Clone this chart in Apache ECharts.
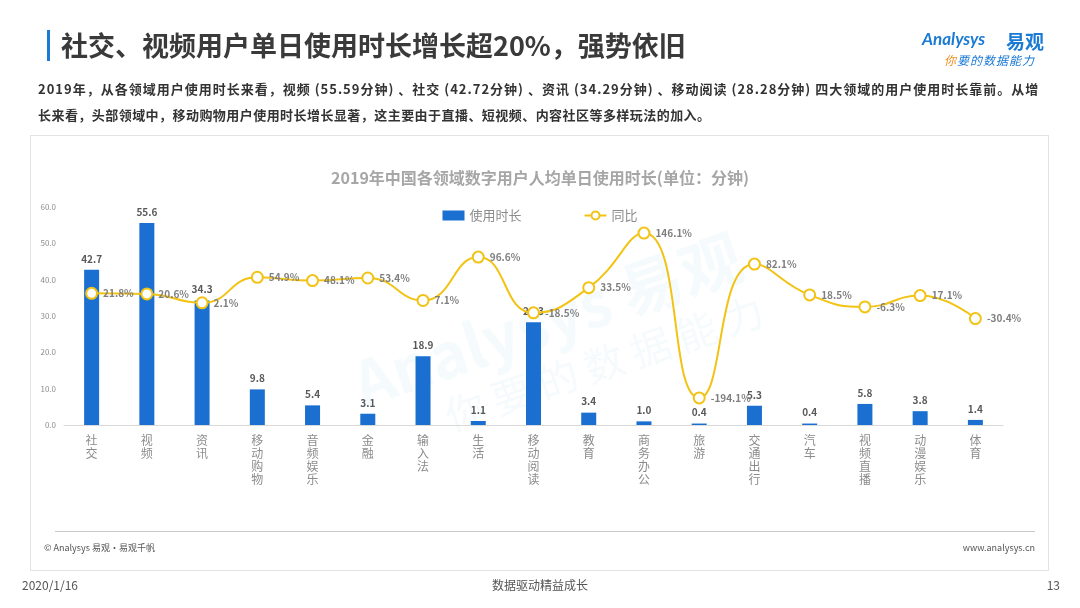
<!DOCTYPE html>
<html>
<head>
<meta charset="utf-8">
<script src="https://cdn.jsdelivr.net/npm/echarts@6/dist/echarts.min.js"></script>
<style>
html,body{margin:0;padding:0;background:#fff;}
body{width:1080px;height:608px;position:relative;overflow:hidden;font-family:"Noto Sans CJK SC","Noto Sans",sans-serif;}
#chart{position:absolute;left:0;top:0;width:1080px;height:608px;}
.abs{position:absolute;white-space:nowrap;}
</style>
</head>
<body>
<div id="chart"></div>
<div class="abs" style="left:47px;top:30px;width:3px;height:31px;background:#1a7ad4;"></div>
<div class="abs" style="left:61px;top:25px;font-size:27px;font-weight:bold;color:#3a3a3a;">社交、视频用户单日使用时长增长超20%，强势依旧</div>
<div class="abs" style="left:922px;top:28px;font-size:17px;font-style:italic;font-weight:bold;color:#1a7ad4;font-family:Lato,'Noto Sans',sans-serif;">Analysys</div>
<div class="abs" style="left:1006px;top:27px;font-size:19px;font-weight:bold;color:#1a7ad4;">易观</div>
<div class="abs" style="left:944px;top:51px;font-size:12px;font-style:italic;color:#1a7ad4;letter-spacing:1px;"><span style="color:#f08c1e;">你</span>要的数据能力</div>
<div class="abs" style="left:38px;top:79px;font-size:13px;font-weight:bold;color:#333;letter-spacing:1.0px;">2019年，从各领域用户使用时长来看，视频 (55.59分钟) 、社交 (42.72分钟) 、资讯 (34.29分钟) 、移动阅读 (28.28分钟) 四大领域的用户使用时长靠前。从增</div>
<div class="abs" style="left:38px;top:105px;font-size:13px;font-weight:bold;color:#333;letter-spacing:0.45px;">长来看，头部领域中，移动购物用户使用时长增长显著，这主要由于直播、短视频、内容社区等多样玩法的加入。</div>
<div class="abs" style="left:30px;top:135px;width:1019px;height:436px;border:1px solid #e3e3e3;box-sizing:border-box;"></div>
<div class="abs" style="left:55px;top:531px;width:980px;height:1px;background:#c8c8c8;"></div>
<div class="abs" style="left:44px;top:541px;font-size:9px;color:#555;">© Analysys 易观·易观千帆</div>
<div class="abs" style="right:45px;top:541px;font-size:9px;color:#555;">www.analysys.cn</div>
<div class="abs" style="left:22px;top:576px;font-size:12px;color:#555;">2020/1/16</div>
<div class="abs" style="left:0;width:1080px;text-align:center;top:576px;font-size:12px;color:#555;">数据驱动精益成长</div>
<div class="abs" style="right:20px;top:576px;font-size:12px;color:#555;">13</div>
<script>
const categories = ['社交','视频','资讯','移动购物','音频娱乐','金融','输入法','生活','移动阅读','教育','商务办公','旅游','交通出行','汽车','视频直播','动漫娱乐','体育'];
const usageMinutes = [42.7, 55.6, 34.3, 9.8, 5.4, 3.1, 18.9, 1.1, 28.3, 3.4, 1.0, 0.4, 5.3, 0.4, 5.8, 3.8, 1.4];
const yoyGrowth = [21.8, 20.6, 2.1, 54.9, 48.1, 53.4, 7.1, 96.6, -18.5, 33.5, 146.1, -194.1, 82.1, 18.5, -6.3, 17.1, -30.4];
const seriesNames = ['使用时长', '同比'];
const chartTitle = '2019年中国各领域数字用户人均单日使用时长(单位：分钟)';

const chart = echarts.init(document.getElementById('chart'), null, {renderer: 'canvas'});
const font = '"Noto Sans CJK SC","Noto Sans",sans-serif';
chart.setOption({
  animation: false,
  textStyle: {fontFamily: font},
  title: {
    text: chartTitle, left: 'center', top: 165,
    textStyle: {fontSize: 16, fontWeight: 'bold', color: '#a6a6a6', fontFamily: font}
  },
  legend: {
    top: 204, left: 'center', itemGap: 62,
    textStyle: {fontSize: 13, color: '#8c8c8c', fontFamily: font},
    data: [
      {name: seriesNames[0], icon: 'rect', itemWidth: 22, itemHeight: 7},
      {name: seriesNames[1]}
    ],
    itemWidth: 22, itemHeight: 10
  },
  graphic: [
    {type: 'text', left: 345, top: 225, rotation: 0.33, z: 0, silent: true,
     style: {text: 'Analysys 易观', fontSize: 62, fontWeight: 'bold', fill: 'rgba(140,195,235,0.09)', fontFamily: font}},
    {type: 'text', left: 440, top: 290, rotation: 0.33, z: 0, silent: true,
     style: {text: '你 要 的 数 据 能 力', fontSize: 40, fill: 'rgba(140,195,235,0.09)', fontFamily: font}}
  ],
  grid: {left: 64, right: 77, top: 207, bottom: 183, containLabel: false},
  xAxis: {
    type: 'category', data: categories,
    axisLine: {lineStyle: {color: '#d9d9d9', width: 1}},
    axisTick: {show: false},
    axisLabel: {
      interval: 0, margin: 9, fontSize: 12, lineHeight: 13, color: '#8c8c8c', fontFamily: font,
      formatter: v => v.split('').join('\n')
    }
  },
  yAxis: [
    {type: 'value', min: 0, max: 60, interval: 10,
     axisLine: {show: false}, axisTick: {show: false}, splitLine: {show: false},
     axisLabel: {fontSize: 8, color: '#8c8c8c', margin: 8, formatter: v => v.toFixed(1)}},
    {type: 'value', min: -250, max: 200, show: false, splitLine: {show: false}}
  ],
  series: [
    {
      name: seriesNames[0], type: 'bar', data: usageMinutes, barWidth: 15,
      itemStyle: {color: '#1a6fd1'},
      label: {show: true, position: 'top', distance: 6, fontSize: 10, fontWeight: 'bold', color: '#595959',
              formatter: p => p.value.toFixed(1)}
    },
    {
      name: seriesNames[1], type: 'line', yAxisIndex: 1, data: yoyGrowth, smooth: 0.5,
      symbol: 'circle', symbolSize: 11,
      lineStyle: {color: '#f2c314', width: 2},
      itemStyle: {color: '#ffffff', borderColor: '#f2c314', borderWidth: 2},
      label: {show: true, position: 'right', distance: 5, fontSize: 10, fontWeight: 'bold', color: '#7f7f7f',
              formatter: p => p.value.toFixed(1) + '%'},
      z: 5
    }
  ]
});
</script>
</body>
</html>
